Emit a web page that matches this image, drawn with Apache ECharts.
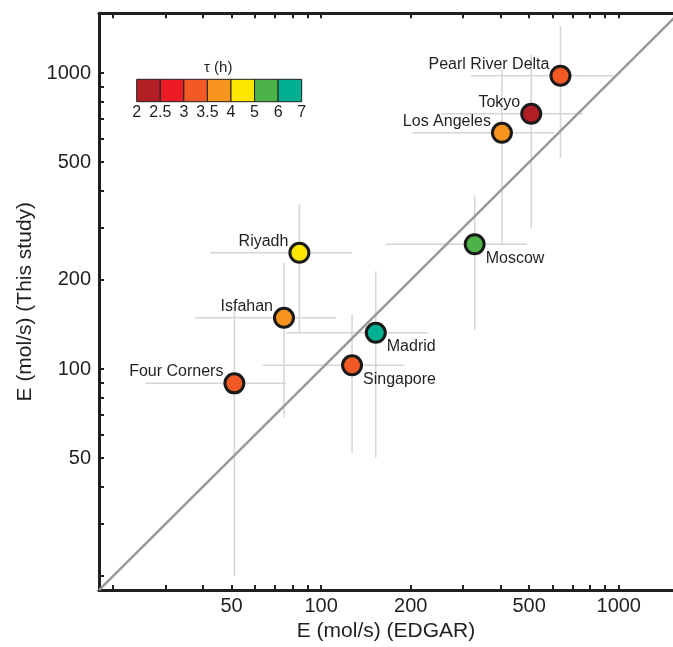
<!DOCTYPE html>
<html>
<head>
<meta charset="utf-8">
<script src="https://cdn.jsdelivr.net/npm/echarts@6/dist/echarts.min.js"></script>
<style>
  html, body { margin: 0; padding: 0; background: #fff; }
  #main { width: 673px; height: 647px; }
</style>
</head>
<body>
<div id="main"></div>
<script>
// site names and emissions (mol/s)
var names = ['Pearl River Delta', 'Tokyo', 'Los Angeles', 'Moscow', 'Riyadh', 'Isfahan', 'Madrid', 'Singapore', 'Four Corners'];
var edgar = [637, 508, 405, 328, 84.5, 75, 152.6, 127, 51.1];
var edgarLow = [319, 253, 203, 164.5, 42.4, 37.7, 76.3, 63.7, 25.6];
var edgarHigh = [955, 757, 608, 492, 126.7, 112.3, 228, 190.5, 76.3];
var study = [979, 728, 628, 264, 247, 149, 132.6, 103, 89.5];
var studyLow = [517, 299, 262, 136, 133, 68.6, 50.3, 52, 20];
var studyHigh = [1442, 1152, 1026, 386, 361, 228, 214, 153, 162];
var tau = [3.2, 2.2, 3.8, 5.5, 4.5, 3.8, 6.5, 3.2, 3.2];

// colour scale for tau (h)
var tauTicks = [2, 2.5, 3, 3.5, 4, 5, 6, 7];
var tauColors = ['#b11f24', '#ed1c24', '#f15a24', '#f7941d', '#ffe600', '#4db248', '#00ae91'];

// axis ticks and labels
var tickVals = [20, 30, 40, 50, 60, 70, 80, 90, 100, 200, 300, 400, 500, 600, 700, 800, 900, 1000];
var labelVals = [50, 100, 200, 500, 1000];

var belowRight = ['Moscow', 'Madrid', 'Singapore'];

var lg = Math.log10;
var axMin = 1.2535, xMax = 3.1823, yMax = 3.2017;
var font = 'Liberation Sans, Arial, Helvetica, sans-serif';
var ink = '#231f20';

var pts = names.map(function (n, i) {
  var right = belowRight.indexOf(n) >= 0;
  return {
    name: n,
    value: [lg(edgar[i]), lg(study[i]), tau[i]],
    label: right
      ? { position: 'right', align: 'left', offset: [0, 14] }
      : { position: 'left', align: 'right', offset: [0, -11.5] }
  };
});
var bars = names.map(function (n, i) {
  return [lg(edgarLow[i]), lg(edgarHigh[i]), lg(studyLow[i]), lg(studyHigh[i]), lg(edgar[i]), lg(study[i])];
});
var cells = tauColors.map(function (c, i) { return [i, i + 1, c]; });

var fmt = function (v) { return String(Math.round(Math.pow(10, v))); };
var ticksLog = tickVals.map(lg);
var labelsLog = labelVals.map(lg);

var myChart = echarts.init(document.getElementById('main'));
var option = {
  animation: false,
  textStyle: { fontFamily: font },
  grid: [
    { left: 99, right: 0, top: 13.3, bottom: 54.3 },
    { left: 136.7, top: 79.3, width: 165, height: 22.4 }
  ],
  xAxis: [
    {
      type: 'value', gridIndex: 0, min: axMin, max: xMax,
      name: 'E (mol/s) (EDGAR)', nameLocation: 'middle', nameGap: 29,
      nameTextStyle: { fontSize: 21, color: ink, fontFamily: font },
      axisLine: { lineStyle: { color: ink, width: 3 } },
      axisTick: { inside: true, length: 5, lineStyle: { color: ink, width: 2 }, customValues: ticksLog },
      axisLabel: { fontSize: 20, color: ink, margin: 6, customValues: labelsLog, formatter: fmt },
      splitLine: { show: false }
    },
    {
      type: 'value', gridIndex: 0, position: 'top', min: axMin, max: xMax,
      axisLine: { lineStyle: { color: ink, width: 3 } },
      axisTick: { inside: true, length: 5, lineStyle: { color: ink, width: 2 }, customValues: ticksLog },
      axisLabel: { show: false },
      splitLine: { show: false }
    },
    {
      type: 'value', gridIndex: 1, min: 0, max: 7, interval: 1,
      axisLine: { show: false }, axisTick: { show: false },
      axisLabel: { fontSize: 16, color: ink, margin: 3, formatter: function (v) { return tauTicks[v]; } },
      splitLine: { show: false }
    }
  ],
  yAxis: [
    {
      type: 'value', gridIndex: 0, min: axMin, max: yMax,
      name: 'E (mol/s) (This study)', nameLocation: 'middle', nameGap: 58,
      nameTextStyle: { fontSize: 21, color: ink, fontFamily: font },
      axisLine: { lineStyle: { color: ink, width: 3 } },
      axisTick: { inside: true, length: 5, lineStyle: { color: ink, width: 2 }, customValues: ticksLog },
      axisLabel: { fontSize: 20, color: ink, margin: 8, customValues: labelsLog, formatter: fmt },
      splitLine: { show: false }
    },
    {
      type: 'value', gridIndex: 1, min: 0, max: 1, show: false
    }
  ],
  graphic: [
    { type: 'text', left: 204, top: 60, style: { text: 'τ (h)', font: '15px ' + font, fill: ink } }
  ],
  visualMap: {
    show: false, type: 'piecewise', dimension: 2, seriesIndex: 2,
    pieces: tauColors.map(function (c, i) { return { gte: tauTicks[i], lt: tauTicks[i + 1], color: c }; })
  },
  series: [
    {
      type: 'custom', xAxisIndex: 0, yAxisIndex: 0, z: 1,
      data: bars,
      encode: { x: [0, 1, 4], y: [2, 3, 5] },
      renderItem: function (params, api) {
        var x = api.value(4), y = api.value(5);
        var a = api.coord([api.value(0), y]), b = api.coord([api.value(1), y]);
        var c = api.coord([x, api.value(2)]), d = api.coord([x, api.value(3)]);
        var st = { stroke: '#d5d5d5', lineWidth: 1.5 };
        return {
          type: 'group', children: [
            { type: 'line', shape: { x1: a[0], y1: a[1], x2: b[0], y2: b[1] }, style: st },
            { type: 'line', shape: { x1: c[0], y1: c[1], x2: d[0], y2: d[1] }, style: st }
          ]
        };
      }
    },
    {
      type: 'line', xAxisIndex: 0, yAxisIndex: 0, z: 2,
      data: [[axMin, axMin], [yMax, yMax]],
      symbol: 'none', silent: true,
      lineStyle: { color: '#999999', width: 2.5 }
    },
    {
      type: 'scatter', xAxisIndex: 0, yAxisIndex: 0, z: 3,
      data: pts,
      symbol: 'circle', symbolSize: 19,
      itemStyle: { borderColor: '#1a1a1a', borderWidth: 3, opacity: 1 },
      label: {
        show: true, distance: 0, fontSize: 16, color: ink, fontFamily: font,
        formatter: function (p) { return p.name; }
      }
    },
    {
      type: 'custom', xAxisIndex: 2, yAxisIndex: 1,
      data: cells,
      renderItem: function (params, api) {
        var p0 = api.coord([api.value(0), 1]);
        var p1 = api.coord([api.value(1), 0]);
        return {
          type: 'rect',
          shape: { x: p0[0], y: p0[1], width: p1[0] - p0[0], height: p1[1] - p0[1] },
          style: { fill: tauColors[params.dataIndex], stroke: ink, lineWidth: 1 }
        };
      }
    }
  ]
};
myChart.setOption(option);
</script>
</body>
</html>
